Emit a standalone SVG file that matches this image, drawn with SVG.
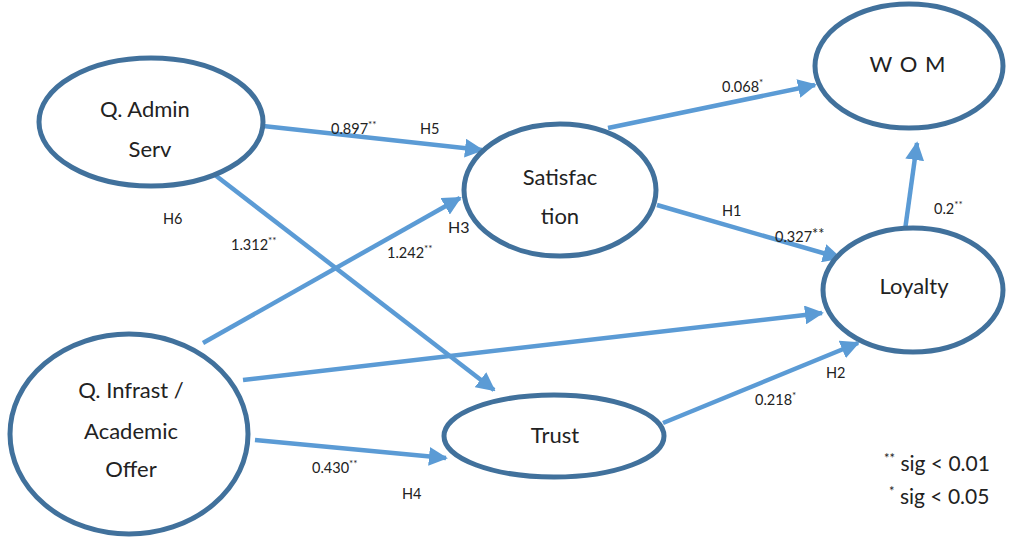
<svg xmlns="http://www.w3.org/2000/svg" width="1018" height="537" viewBox="0 0 1018 537">
<defs>
<style>
.node{fill:#fff;stroke:#41719c;stroke-width:5}
.lbl{font-family:Lato,"Open Sans",sans-serif;font-size:22px;fill:#222;text-anchor:middle}
.edge{stroke:#5b9bd5;stroke-width:4.5;fill:none;marker-end:url(#ah)}
.t{font-family:Lato,"Open Sans",sans-serif;font-size:14.5px;fill:#222}
.sup{font-size:10px}
.leg{font-family:Lato,"Open Sans",sans-serif;font-size:21px;fill:#222}
</style>
<marker id="ah" viewBox="0 0 10 10" refX="9" refY="5" markerWidth="4.2" markerHeight="4.2" orient="auto" markerUnits="strokeWidth">
<path d="M0,0 L10,5 L0,10 z" fill="#5b9bd5"/>
</marker>
</defs>
<rect width="1018" height="537" fill="#fff"/>
<g id="connectors">
<line class="edge" x1="263" y1="126" x2="482" y2="150"/>
<line class="edge" x1="215" y1="175" x2="494" y2="390"/>
<line class="edge" x1="203" y1="343" x2="460" y2="198"/>
<line class="edge" x1="243" y1="380" x2="822" y2="313"/>
<line class="edge" x1="255" y1="440" x2="446" y2="458"/>
<line class="edge" x1="608" y1="128" x2="815" y2="85"/>
<line class="edge" x1="657" y1="205" x2="840" y2="258"/>
<line class="edge" x1="663" y1="423" x2="858" y2="343"/>
<line class="edge" x1="905" y1="230" x2="917" y2="143"/>
</g>
<g id="n-admin"><ellipse class="node" cx="151" cy="122" rx="112" ry="64"/><text class="lbl" x="145" y="117">Q. Admin</text><text class="lbl" x="150" y="157">Serv</text></g>
<g id="n-sat"><ellipse class="node" cx="560" cy="190" rx="96" ry="66"/><text class="lbl" x="560" y="185">Satisfac</text><text class="lbl" x="560" y="224">tion</text></g>
<g id="n-wom"><ellipse class="node" cx="909" cy="66" rx="94" ry="62"/><text class="lbl" x="908" y="72" style="letter-spacing:1px">W O M</text></g>
<g id="n-loy"><ellipse class="node" cx="913" cy="290" rx="90" ry="62"/><text class="lbl" x="914" y="294">Loyalty</text></g>
<g id="n-inf"><ellipse class="node" cx="129" cy="434" rx="119" ry="100"/><text class="lbl" x="131" y="398">Q. Infrast /</text><text class="lbl" x="131" y="439">Academic</text><text class="lbl" x="131" y="477">Offer</text></g>
<g id="n-trust"><ellipse class="node" cx="554" cy="436" rx="110" ry="41"/><text class="lbl" x="555" y="443">Trust</text></g>
<g id="labels">
<text class="t" x="331" y="134">0.897<tspan class="sup" dy="-6">**</tspan></text>
<text class="t" x="420" y="134">H5</text>
<text class="t" x="163" y="224">H6</text>
<text class="t" x="231" y="250">1.312<tspan class="sup" dy="-6">**</tspan></text>
<text class="t" x="387" y="258">1.242<tspan class="sup" dy="-6">**</tspan></text>
<text class="t" x="448" y="233" style="font-size:16px">H3</text>
<text class="t" x="722" y="92">0.068<tspan class="sup" dy="-6">*</tspan></text>
<text class="t" x="722" y="216">H1</text>
<text class="t" x="775" y="242">0.327<tspan dy="-3">**</tspan></text>
<text class="t" x="934" y="214">0.2<tspan class="sup" dy="-6">**</tspan></text>
<text class="t" x="755" y="405">0.218<tspan class="sup" dy="-6">*</tspan></text>
<text class="t" x="826" y="378">H2</text>
<text class="t" x="312" y="473">0.430<tspan class="sup" dy="-6">**</tspan></text>
<text class="t" x="402" y="499">H4</text>
<text class="leg" x="884" y="471"><tspan style="font-size:13px" dy="-8">**</tspan><tspan dy="8"> sig &lt; 0.01</tspan></text>
<text class="leg" x="889" y="504"><tspan style="font-size:13px" dy="-8">*</tspan><tspan dy="8"> sig &lt; 0.05</tspan></text>
</g>
</svg>
